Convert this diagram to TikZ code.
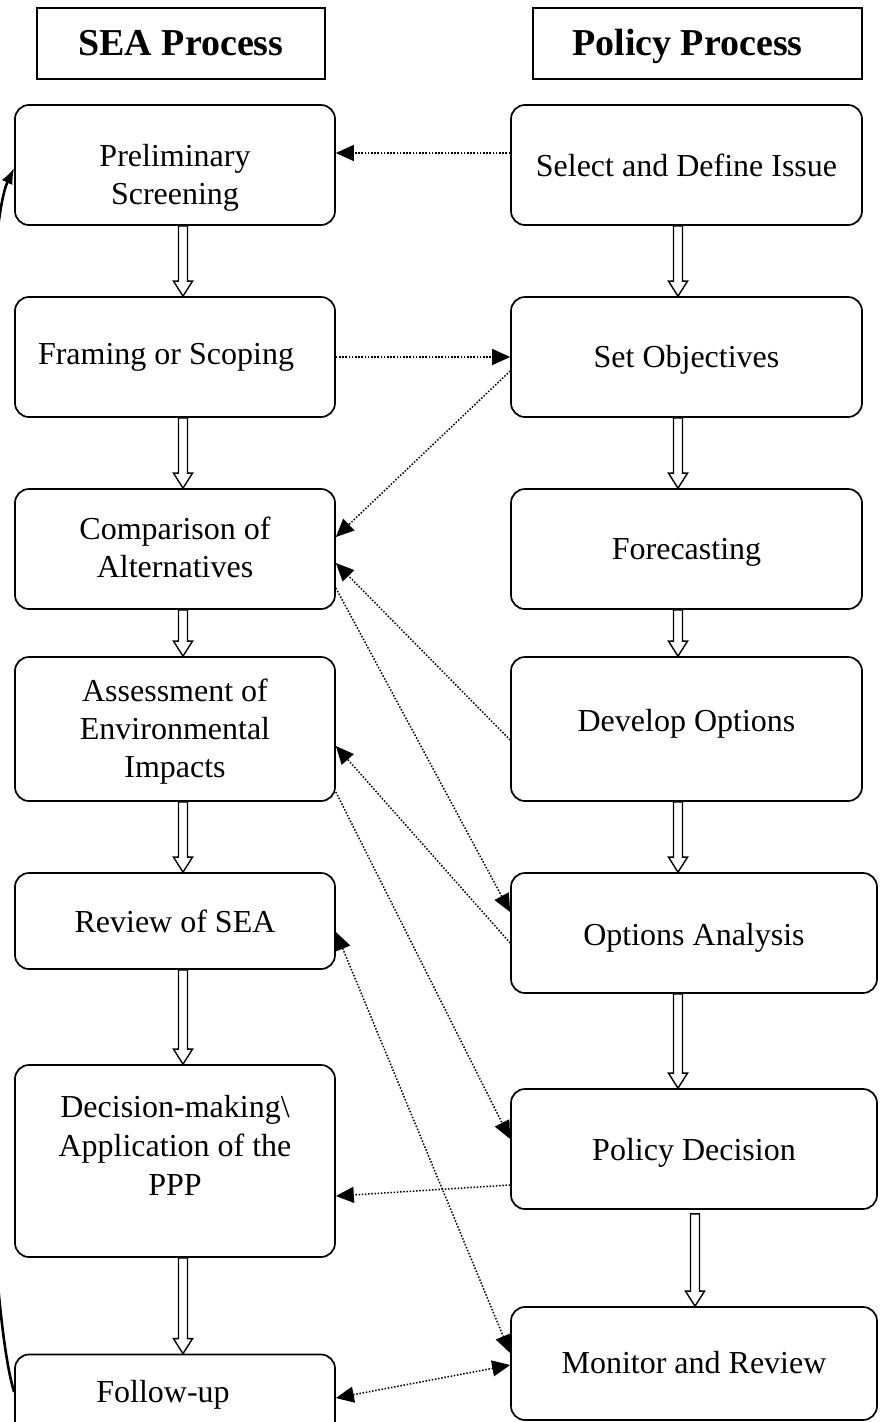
\documentclass[tikz,border=0pt]{standalone}
\usepackage{fontspec}
\setmainfont{Liberation Serif}
\usetikzlibrary{arrows.meta,calc}
\newcommand{\harrow}[4][0]{%
  \draw[hollow] let \p1=(#2.south), \p2=(#3.north) in
   (#4pt-4.5pt,\y1-#1pt) -- (#4pt-4.5pt,\y2+15pt) -- (#4pt-9.5pt,\y2+15pt) -- (#4pt,\y2)
   -- (#4pt+9.5pt,\y2+15pt) -- (#4pt+4.5pt,\y2+15pt) -- (#4pt+4.5pt,\y1-#1pt) -- cycle;}
\newcommand{\mv}[2]{\raisebox{#1}[\height][\depth]{\begin{tabular}{@{}c@{}}#2\end{tabular}}}
\begin{document}
\begin{tikzpicture}[x=1pt,y=-1pt,
  box/.style={draw, line width=1.7pt, rounded corners=14pt, align=center,
    font=\fontsize{32}{38}\selectfont, inner sep=0pt},
  lbox/.style={box, minimum width=320pt},
  rbox/.style={box, minimum width=351pt},
  rboxw/.style={box, minimum width=366pt},
  headbox/.style={draw, line width=1.1pt, inner sep=0pt, minimum height=71pt,
    font=\fontsize{38}{44}\selectfont\bfseries},
  tip/.tip={Triangle[length=18pt,width=16pt]},
  dotline/.style={line width=1.5pt, dash pattern=on 1.5pt off 1.7pt},
  dot/.style={dotline, -tip},
  dotboth/.style={dotline, tip-tip},
  hollow/.style={draw, line width=1.4pt, line join=miter},
  loop/.style={line width=2.6pt, -{Latex[length=16pt,width=12pt]}}
]
\useasboundingbox (0,0) rectangle (884,1422);

% headers
\node[headbox, minimum width=288pt] (seah) at (181,43.5) {\mv{-3pt}{SEA Process}};
\node[headbox, minimum width=329pt] (polh) at (697.5,43.5) {\hspace*{-20pt}\mv{-3pt}{Policy Process}};

% left column
\node[lbox, minimum height=120pt] (prelim) at (175,165) {\mv{-13pt}{Preliminary\\Screening}};
\node[lbox, minimum height=120pt] (framing) at (175,357) {\hspace*{-18pt}Framing or Scoping};
\node[lbox, minimum height=120pt] (compar) at (175,549) {\mv{-2pt}{Comparison of\\Alternatives}};
\node[lbox, minimum height=144pt] (assess) at (175,729) {\mv{-3pt}{Assessment of\\Environmental\\Impacts}};
\node[lbox, minimum height=96pt] (review) at (175,921) {Review of SEA};
\node[lbox, minimum height=192pt, font=\fontsize{32}{39}\selectfont] (decision) at (175,1161) {\mv{12pt}{Decision-making\textbackslash\\Application of the\\PPP}};
\node[lbox, minimum height=85pt] (follow) at (175,1397) {\hspace*{-24pt}\mv{2pt}{Follow-up}};

% right column
\node[rbox, minimum height=120pt] (select) at (686.5,165) {Select and Define Issue};
\node[rbox, minimum height=120pt] (setobj) at (686.5,357) {\mv{-3pt}{Set Objectives}};
\node[rbox, minimum height=120pt] (forecast) at (686.5,549) {\mv{-3pt}{Forecasting}};
\node[rbox, minimum height=144pt] (develop) at (686.5,729) {\mv{5pt}{Develop Options}};
\node[rboxw, minimum height=120pt] (optan) at (694,933) {\mv{-5pt}{Options Analysis}};
\node[rboxw, minimum height=120pt] (poldec) at (694,1149) {\mv{-4pt}{Policy Decision}};
\node[rboxw, minimum height=113pt] (monitor) at (694,1363.5) {\mv{-2pt}{Monitor and Review}};

% hollow flow arrows
\harrow{prelim}{framing}{183}
\harrow{framing}{compar}{183}
\harrow{compar}{assess}{183}
\harrow{assess}{review}{183}
\harrow{review}{decision}{183}
\harrow{decision}{follow}{183}
\harrow{select}{setobj}{678}
\harrow{setobj}{forecast}{678}
\harrow{forecast}{develop}{678}
\harrow{develop}{optan}{678}
\harrow{optan}{poldec}{678}
\harrow[4]{poldec}{monitor}{695}

% dotted links
\draw[dot] ([yshift=12pt]select.west) -- ([yshift=12pt]prelim.east);
\draw[dot] (framing.east) -- (setobj.west);
\draw[dot] ([yshift=-14pt]setobj.west) -- ([yshift=12pt]compar.east);
\draw[dot] ([yshift=-11pt]develop.west) -- ([yshift=-14pt]compar.east);
\draw[dot] ([yshift=-39pt]compar.east) -- ([yshift=21pt]optan.west);
\draw[dot] ([yshift=-10pt]optan.west) -- ([yshift=-17pt]assess.east);
\draw[dot] ([yshift=-63pt]assess.east) -- ([yshift=10pt]poldec.west);
\draw[dotboth] ([yshift=-11pt]review.east) -- ([yshift=10.5pt]monitor.west);
\draw[dotboth] ([yshift=-1pt]follow.east) -- ([yshift=-1.5pt]monitor.west);
\draw[dot] ([yshift=-36pt]poldec.west) -- ([yshift=-35pt]decision.east);

% feedback loop
\draw[loop] ([yshift=5pt]follow.west) .. controls (-30,1250) and (-30,260) .. ([yshift=-3pt]prelim.west);
\end{tikzpicture}
\end{document}
